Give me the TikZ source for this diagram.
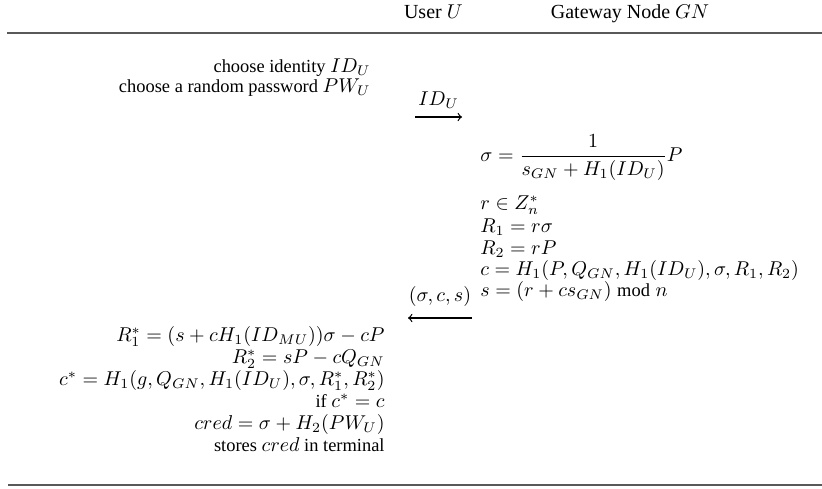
\documentclass[tikz,border=0pt]{standalone}
\usepackage{amsmath}
\usepackage{fontspec}
\setmainfont{Liberation Serif}[Scale=0.96]
\begin{document}
\begin{tikzpicture}[x=0.5pt,y=-0.5pt,
  txt/.style={inner sep=0pt, font=\fontsize{9.6}{11.5}\selectfont},
  row/.style={txt, text height=6.3pt, text depth=1.7pt},
  head/.style={inner sep=0pt, font=\fontsize{10.4}{12.5}\selectfont},
  lcol/.style={row, anchor=mid east},
  rcol/.style={row, anchor=mid west},
  rulebar/.style={draw=black!65, line width=1.3pt},
  msg/.style={->, line width=0.6pt},
  msglabel/.style={txt, midway, above=4pt},
]
\useasboundingbox (0,0) rectangle (822,488);

% column headings and rules
\node[head, anchor=mid east] (hu) at (463,14) {User $U$};
\node[head, anchor=mid] (hg) at (630,14) {Gateway Node $GN$};
\draw[rulebar] (7,33) -- (822,33);
\draw[rulebar] (8,485) -- (822,485);

% user: registration request
\node[lcol] (u1) at (371,68) {choose identity $ID_U$};
\node[lcol] (u2) at (371,88) {choose a random password $PW_U$};

% message to the gateway
\coordinate (m1s) at (415,117);
\coordinate (m1e) at (462,117);
\draw[msg] (m1s) -- node[msglabel] {$ID_U$} (m1e);

% gateway computations
\node[txt, anchor=mid west] (g1) at (480,157) {$\displaystyle \sigma = \frac{1}{s_{GN} + H_1(ID_U)}P$};
\node[rcol] (g2) at (480,205) {$r \in Z_n^*$};
\node[rcol] (g3) at (480,228) {$R_1 = r\sigma$};
\node[rcol] (g4) at (480,250) {$R_2 = rP$};
\node[rcol] (g5) at (480,271) {$c = H_1(P, Q_{GN}, H_1(ID_U), \sigma, R_1, R_2)$};
\node[rcol] (g6) at (480,292) {$s = (r + cs_{GN}) \bmod n$};

% reply to the user
\coordinate (m2s) at (472,318);
\coordinate (m2e) at (408,318);
\draw[msg] (m2s) -- node[msglabel, above=1.5pt] {$(\sigma, c, s)$} (m2e);

% user: verification and storage
\node[lcol] (v1) at (385,337) {$R_1^* = (s + cH_1(ID_{MU}))\sigma - cP$};
\node[lcol] (v2) at (385,359) {$R_2^* = sP - cQ_{GN}$};
\node[lcol] (v3) at (385,381) {$c^* = H_1(g, Q_{GN}, H_1(ID_U), \sigma, R_1^*, R_2^*)$};
\node[lcol] (v4) at (385,403) {if $c^* = c$};
\node[lcol] (v5) at (385,425) {$cred = \sigma + H_2(PW_U)$};
\node[lcol] (v6) at (385,447) {stores $cred$ in terminal};
\end{tikzpicture}
\end{document}
